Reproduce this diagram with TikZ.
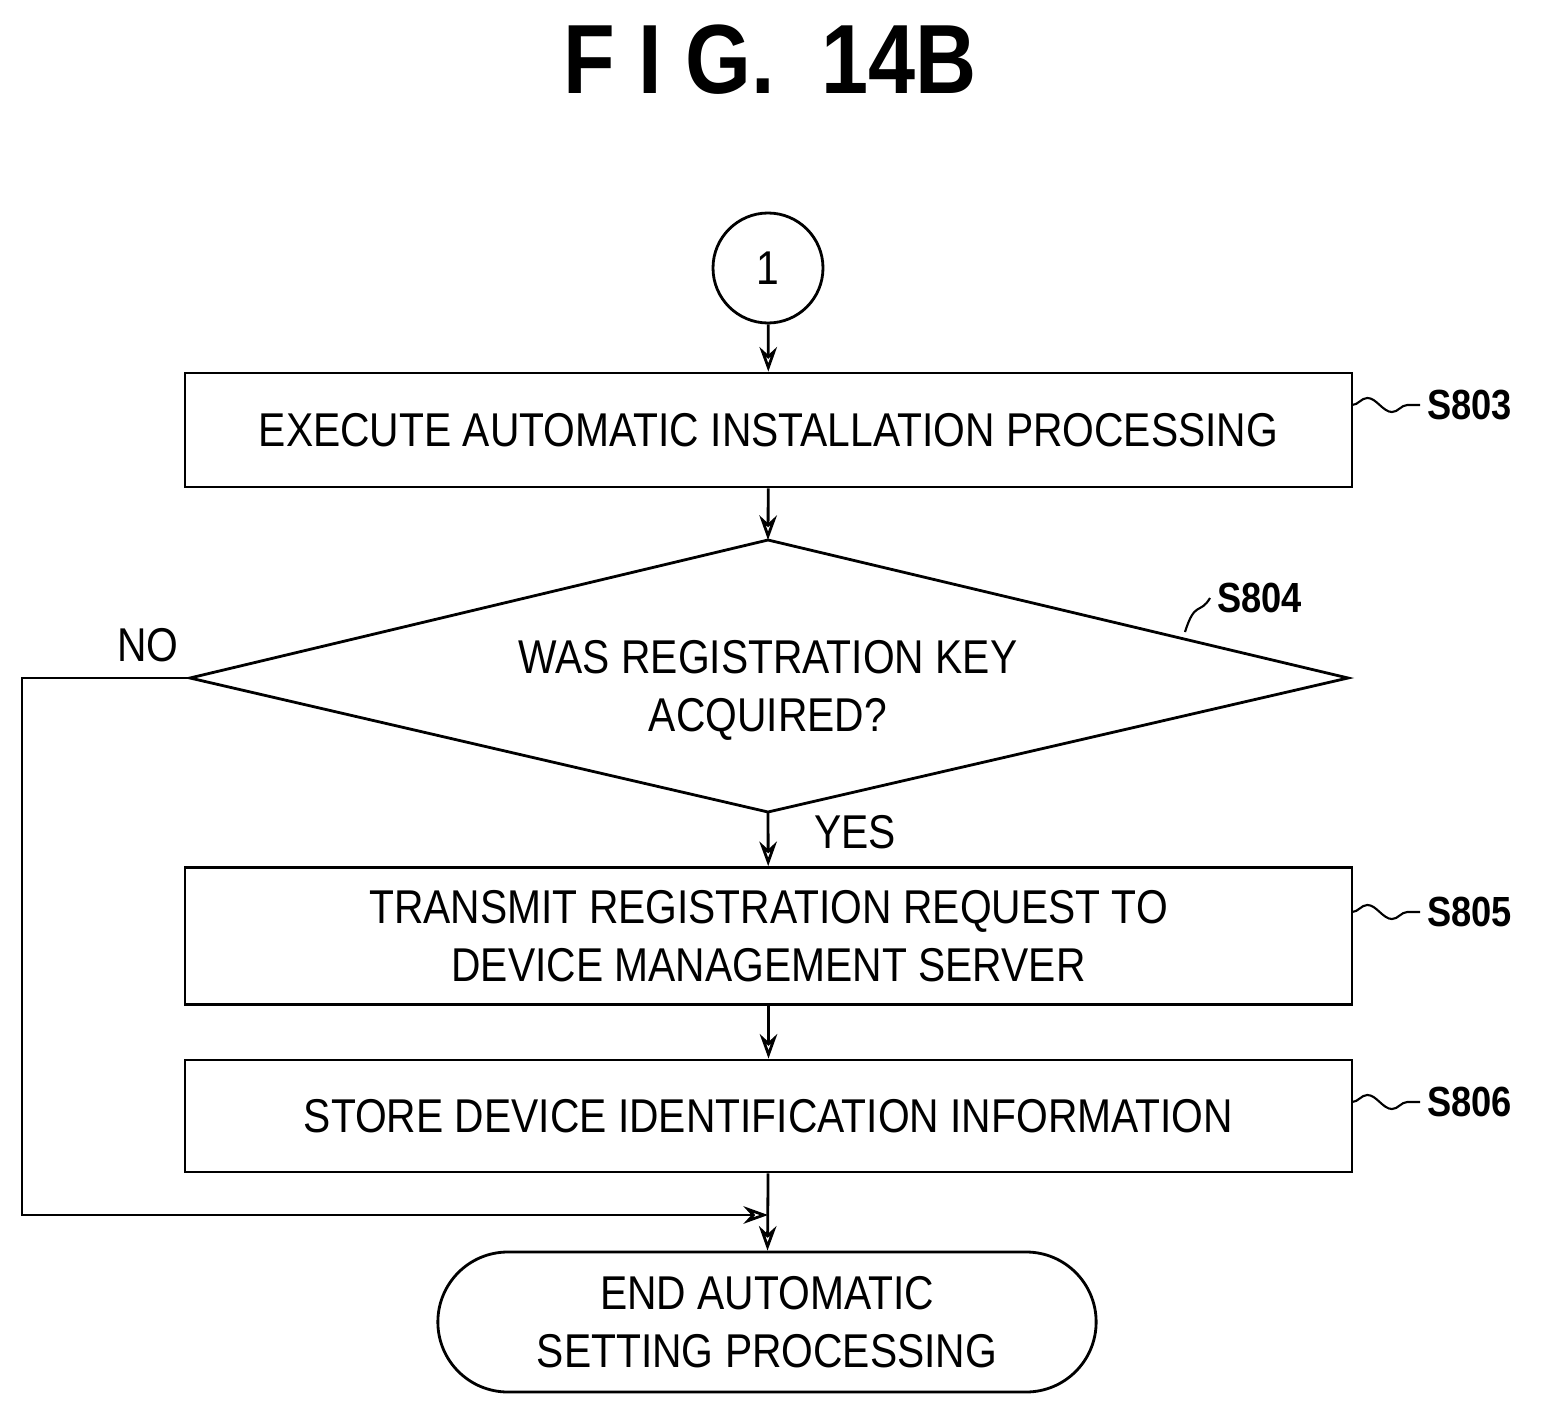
\documentclass[tikz,border=0pt]{standalone}
\usepackage{fontspec}
\setmainfont{Liberation Sans}[FakeStretch=0.86]
\usetikzlibrary{shapes.geometric,shapes.misc,arrows.meta,decorations.pathmorphing}
\begin{document}
\begin{tikzpicture}[x=0.02cm,y=-0.02cm,
  line width=1.6pt,
  txt/.style={font=\fontsize{27}{33}\selectfont,align=center},
  box/.style={draw,minimum width=1167*0.02cm,inner sep=0},
  lab/.style={font=\fontsize{24}{28}\selectfont\bfseries,anchor=west},
  arr/.style={-{Stealth[length=14pt,width=10pt,open]}},
  sq/.style={decorate,decoration={snake,amplitude=4pt,segment length=28pt},line width=1.2pt}]
\useasboundingbox (0,0) rectangle (1556,1416);
\node[font=\fontsize{56}{60}\selectfont\bfseries] (title) at (770,60) {F I G.\ \ 14B};
\node[draw,circle,minimum size=110*0.02cm,txt] (c1) at (768,268) {1};
\node[box,minimum height=114*0.02cm,txt] (s803) at (768.5,430) {EXECUTE AUTOMATIC INSTALLATION PROCESSING};
\coordinate (dt) at (768,540); \coordinate (db) at (768,812);
\coordinate (dl) at (190,678); \coordinate (dr) at (1348,678);
\draw (dt) -- (dr) -- (db) -- (dl) -- cycle;
\node[txt] (q) at (768,690) {WAS REGISTRATION KEY\\ACQUIRED?};
\node[box,minimum height=137*0.02cm,txt] (s805) at (768.5,936) {TRANSMIT REGISTRATION REQUEST TO\\DEVICE MANAGEMENT SERVER};
\node[box,minimum height=112*0.02cm,txt] (s806) at (768.5,1116) {STORE DEVICE IDENTIFICATION INFORMATION};
\node[draw,rounded rectangle,minimum width=670*0.02cm,minimum height=140*0.02cm,txt] (end) at (767,1322) {END AUTOMATIC\\SETTING PROCESSING};
\node[txt] (no) at (148,645) {NO};
\node[txt] (yes) at (855,832) {YES};
\draw[arr] (c1) -- (s803);
\draw[arr] (s803) -- (dt);
\draw[arr] (db) -- (s805);
\draw[arr] (s805) -- (s806);
\draw[arr] (s806) -- (end);
\coordinate (m) at (768,1215);
\draw[arr] (dl) -- (22,678) -- (22,1215) -- (m);
\node[lab] (l803) at (1420,405) {S803};
\node[lab] (l805) at (1420,912) {S805};
\node[lab] (l806) at (1420,1102) {S806};
\node[lab] (l804) at (1210,598) {S804};
\draw[sq] (1352,405) -- (l803.west);
\draw[sq] (1352,912) -- (l805.west);
\draw[sq] (1352,1102) -- (l806.west);
\draw[line width=1.2pt] (1185,632) .. controls (1195,600) and (1200,615) .. (l804.west);
\end{tikzpicture}
\end{document}
